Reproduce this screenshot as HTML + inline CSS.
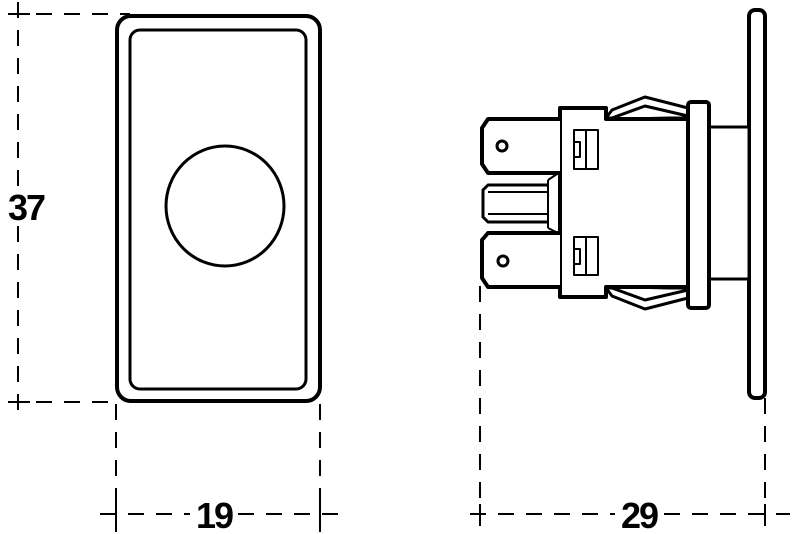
<!DOCTYPE html>
<html><head><meta charset="utf-8"><style>html,body{margin:0;padding:0;background:#fff}svg{display:block}</style></head>
<body>
<svg width="800" height="534" viewBox="0 0 800 534" xmlns="http://www.w3.org/2000/svg">
<g stroke="#000" stroke-width="2" fill="none" stroke-dasharray="16,12">
  <line x1="8" y1="14" x2="130" y2="14"/>
  <line x1="18" y1="2" x2="18" y2="412"/>
  <line x1="8" y1="402" x2="118" y2="402"/>
  <line x1="116" y1="404" x2="116" y2="534"/>
  <line x1="320" y1="404" x2="320" y2="534"/>
  <line x1="100" y1="514" x2="190" y2="514"/>
  <line x1="238" y1="514" x2="348" y2="514"/>
  <line x1="480" y1="286" x2="480" y2="534"/>
  <line x1="765" y1="398" x2="765" y2="534"/>
  <line x1="470" y1="514" x2="615" y2="514"/>
  <line x1="664" y1="514" x2="790" y2="514"/>
</g>
<g stroke="#000" stroke-width="2" fill="none">
  <line x1="8" y1="14" x2="30" y2="14"/>
  <line x1="8" y1="402" x2="30" y2="402"/>
  <line x1="116" y1="504" x2="116" y2="524"/>
  <line x1="320" y1="504" x2="320" y2="524"/>
  <line x1="480" y1="504" x2="480" y2="524"/>
  <line x1="765" y1="504" x2="765" y2="524"/>
</g>
<g fill="#fff">
  <rect x="5" y="188" width="42" height="36"/>
  <rect x="190" y="498" width="48" height="34"/>
  <rect x="615" y="498" width="49" height="34"/>
</g>
<g stroke="#000" fill="none">
  <rect x="117" y="16" width="203" height="385" rx="14" stroke-width="4"/>
  <rect x="130" y="30" width="176" height="359" rx="10" stroke-width="3"/>
  <ellipse cx="225" cy="206" rx="59" ry="60" stroke-width="3"/>
</g>
<g font-family="Liberation Sans, sans-serif" font-size="36" font-weight="bold" fill="#000" text-anchor="middle" letter-spacing="-2">
  <text x="26" y="220">37</text>
  <text x="214" y="528">19</text>
  <text x="639" y="528">29</text>
</g>
<g stroke="#000" stroke-width="3" fill="#fff" stroke-linejoin="round">
  <rect x="749" y="10" width="16" height="388" rx="6" stroke-width="4"/>
  <rect x="709" y="127" width="40" height="152"/>
  <path d="M606 118 L612 110 L645 97 L688 108 L688 118 Z"/>
  <path d="M612 118 L645 106 L688 116"/>
  <path d="M606 288 L612 296 L645 309 L688 298 L688 288 Z"/>
  <path d="M612 288 L645 300 L688 290"/>
  <rect x="688" y="102" width="21" height="206" rx="3" stroke-width="4"/>
  <path d="M560 108 L606 108 L606 119 L688 119 L688 287 L606 287 L606 297 L560 297 Z" stroke-width="4"/>
  <path d="M560 119 L488 119 L482 128 L482 164 L488 173 L560 173" stroke-width="4"/>
  <circle cx="502" cy="146" r="5"/>
  <path d="M560 233 L488 233 L482 240 L482 278 L488 287 L560 287" stroke-width="4"/>
  <circle cx="503" cy="261" r="5"/>
  <path d="M548 185 L488 185 L483 190 L483 217 L488 222 L548 222" stroke-width="3"/>
  <path d="M548 180 L548 228 M548 180 L560 172 M548 228 L560 234" stroke-width="2"/>
  <path d="M488 192 L548 192 M488 214 L548 214" stroke-width="2"/>
  <path d="M574 130 L598 130 L598 169 L574 169 Z M586 130 L586 169 M574 142 L580 142 L580 157 L574 157" stroke-width="2"/>
  <path d="M574 237 L598 237 L598 275 L574 275 Z M586 237 L586 275 M574 249 L580 249 L580 264 L574 264" stroke-width="2"/>
</g>
</svg>
</body></html>
